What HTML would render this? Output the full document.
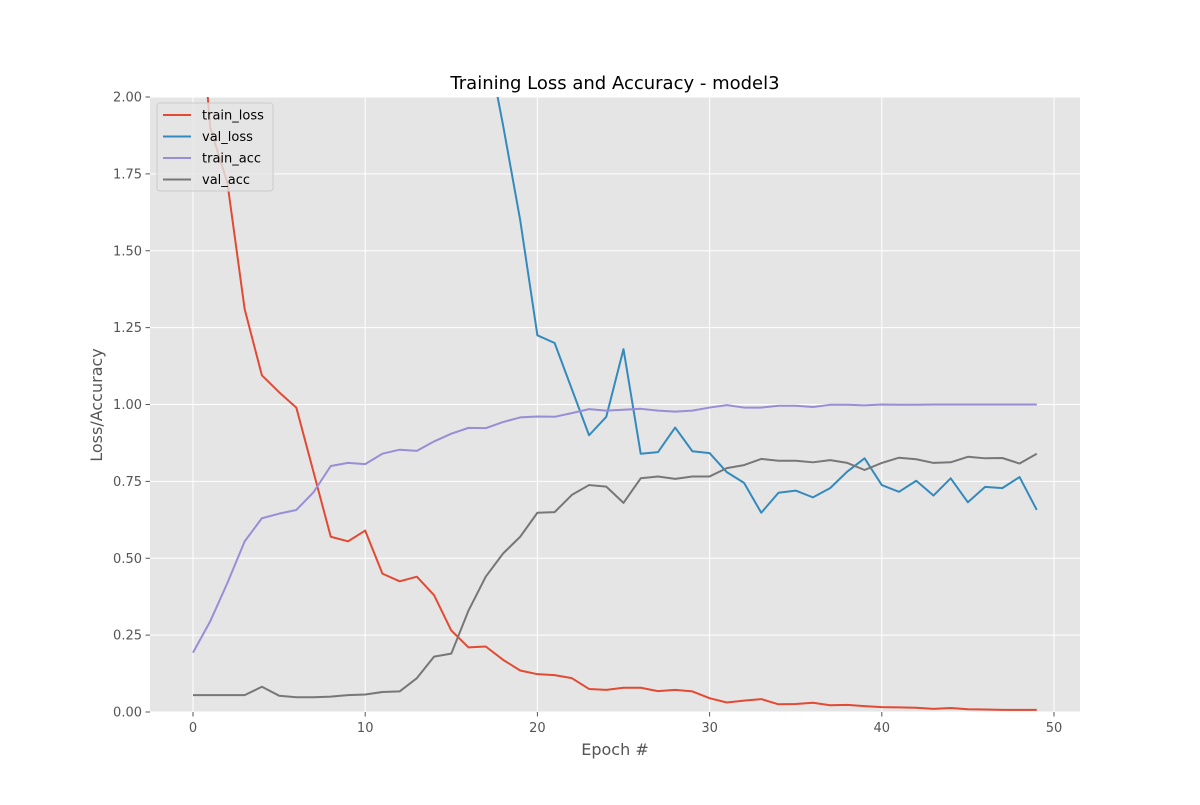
<!DOCTYPE html>
<html><head><meta charset="utf-8"><style>
body{margin:0;background:#fff;}
svg text{font-family:"DejaVu Sans","Liberation Sans",sans-serif;}
</style></head><body>
<svg id="chart" width="1200" height="800" xmlns="http://www.w3.org/2000/svg">
<defs><clipPath id="clip"><rect x="150" y="97" width="930" height="615"/></clipPath></defs>
<rect x="0" y="0" width="1200" height="800" fill="#fff"/>
<rect x="150" y="97" width="930" height="615" fill="#E5E5E5"/>
<g id="grid"></g>
<g id="ticks"></g>
<g id="lines" clip-path="url(#clip)"></g>
<text x="615" y="89" font-size="18" text-anchor="middle" fill="#000">Training Loss and Accuracy - model3</text>
<text x="615" y="755" font-size="16" text-anchor="middle" fill="#555">Epoch #</text>
<text x="102" y="405" font-size="16" text-anchor="middle" fill="#555" transform="rotate(-90 102 405)">Loss/Accuracy</text>
<g id="legend"></g>
</svg>
<script>
const trainLoss=[2.6,1.9,1.72,1.31,1.095,1.04,0.99,0.78,0.57,0.555,0.59,0.45,0.425,0.44,0.38,0.265,0.21,0.213,0.17,0.135,0.123,0.12,0.11,0.075,0.072,0.079,0.079,0.068,0.072,0.067,0.045,0.031,0.037,0.042,0.025,0.026,0.03,0.022,0.023,0.019,0.016,0.015,0.014,0.01,0.013,0.009,0.008,0.007,0.007,0.007];
const valLoss=[9,8.5,8,7.5,7,6.5,6,5.5,5,4.6,4.2,3.8,3.5,3.2,2.9,2.6,2.4,2.2,1.91,1.6,1.225,1.2,1.05,0.90,0.96,1.18,0.84,0.845,0.925,0.848,0.842,0.78,0.745,0.648,0.713,0.72,0.698,0.728,0.782,0.825,0.738,0.716,0.752,0.704,0.76,0.682,0.732,0.728,0.764,0.657];
const trainAcc=[0.193,0.295,0.42,0.555,0.63,0.645,0.657,0.715,0.80,0.81,0.806,0.84,0.853,0.849,0.88,0.905,0.924,0.923,0.943,0.958,0.961,0.96,0.972,0.985,0.98,0.983,0.986,0.98,0.977,0.98,0.99,0.998,0.99,0.99,0.996,0.996,0.992,0.999,0.999,0.997,1.0,0.999,0.999,1.0,1.0,1.0,1.0,1.0,1.0,1.0];
const valAcc=[0.055,0.055,0.055,0.055,0.082,0.053,0.048,0.048,0.05,0.055,0.057,0.065,0.067,0.11,0.18,0.19,0.33,0.44,0.515,0.57,0.648,0.65,0.706,0.738,0.733,0.68,0.76,0.766,0.758,0.766,0.766,0.793,0.803,0.823,0.817,0.817,0.812,0.819,0.81,0.787,0.81,0.827,0.822,0.81,0.812,0.83,0.825,0.826,0.808,0.84];
const xTicks=[0,10,20,30,40,50];
const yTicks=[0,0.25,0.5,0.75,1.0,1.25,1.5,1.75,2.0];
const seriesNames=["train_loss","val_loss","train_acc","val_acc"];
const colors=["#E24A33","#348ABD","#988ED5","#777777"];
const NS="http://www.w3.org/2000/svg";
const X=v=>193+v*(1054-193)/50;
const Y=v=>712-v*(615/2);
function mk(tag,attrs,parent,text){const e=document.createElementNS(NS,tag);for(const k in attrs)e.setAttribute(k,attrs[k]);if(text!==undefined)e.textContent=text;parent.appendChild(e);return e;}
const grid=document.getElementById('grid'),ticks=document.getElementById('ticks'),lines=document.getElementById('lines'),legend=document.getElementById('legend');
xTicks.forEach(t=>{
  const l=mk('line',{x1:X(t),x2:X(t),y1:97,y2:712,stroke:'#fff','stroke-width':1},grid);
  
  
  const tk=mk('line',{x1:X(t),x2:X(t),y1:712,y2:716.5,stroke:'#555'},ticks);
  
  
  const tx=mk('text',{x:X(t),y:732,'font-size':13,'text-anchor':'middle',fill:'#555'},ticks,String(t));
  
  
});
yTicks.forEach(t=>{
  const l=mk('line',{x1:150,x2:1080,y1:Y(t),y2:Y(t),stroke:'#fff','stroke-width':1},grid);
  
  
  const tk=mk('line',{x1:145.5,x2:150,y1:Y(t),y2:Y(t),stroke:'#555'},ticks);
  
  
  const tx=mk('text',{x:142,y:Y(t)+4.5,'font-size':13,'text-anchor':'end',fill:'#555'},ticks,t.toFixed(2));
  
  
});
[trainLoss,valLoss,trainAcc,valAcc].forEach((s,i)=>{
  const d=s.map((v,j)=>(j?'L':'M')+X(j).toFixed(2)+','+Y(v).toFixed(2)).join(' ');
  const p=mk('path',{d:d,fill:'none',stroke:colors[i],'stroke-width':2,'stroke-linejoin':'round'},lines);
  
  
});
const lb=mk('rect',{x:157,y:103,width:116,height:88,rx:3,fill:'#E5E5E5',stroke:'#ccc','fill-opacity':0.8},legend);


seriesNames.forEach((n,i)=>{
  const y=115+i*21.5;
  const g=mk('g',{},legend);
  
  
  mk('line',{x1:163,x2:191,y1:y,y2:y,stroke:colors[i],'stroke-width':2},g);
  mk('text',{x:202,y:y+4.5,'font-size':13,fill:'#000'},g,n);
});
</script>
</body></html>
